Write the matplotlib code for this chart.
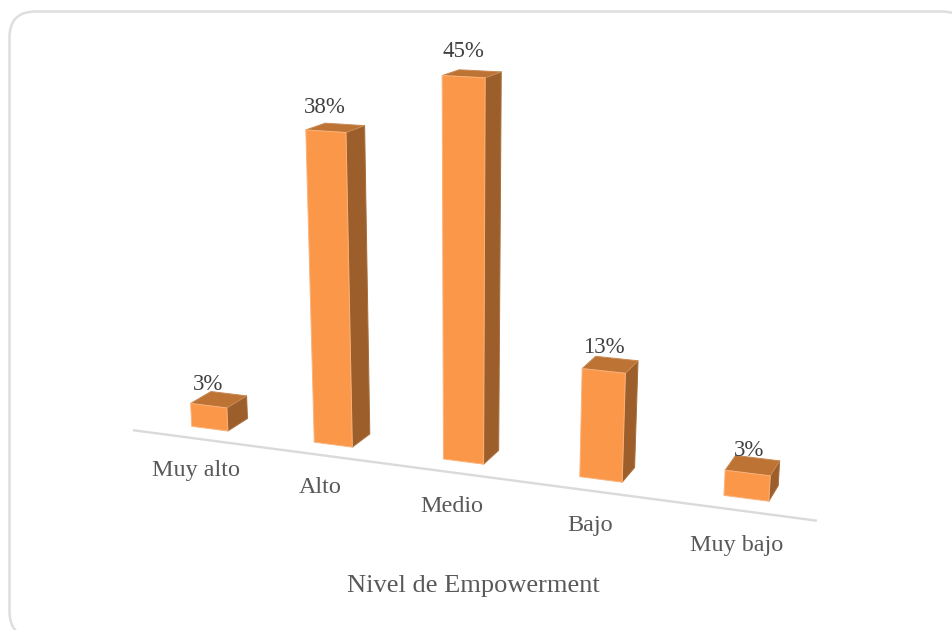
import numpy as np
import matplotlib
matplotlib.use("Agg")
import matplotlib.pyplot as plt
from matplotlib.patches import Polygon, FancyBboxPatch

# Survey results
categories = ["Muy alto", "Alto", "Medio", "Bajo", "Muy bajo"]
percentages = [3, 38, 45, 13, 3]
axis_title = "Nivel de Empowerment"

plt.rcParams["font.family"] = ["Liberation Serif", "DejaVu Serif"]

FRONT = "#FA9748"
TOP = "#BC7334"
SIDE = "#9C5E2A"
LABEL = "#595959"
VALUE = "#404040"
FRAME = "#DEDEDE"

# Perspective camera: (category, value, depth) -> canvas pixels
CAMERA = np.array([
    [114.9002, -0.646, 24.73545, 209.748],
    [4.574507, -8.22, -3.677151, 428.6337],
    [-0.02577282, -0.0014, 0.02101169, 1.0],
])
HALF_WIDTH = 0.15


def project(x, y, z):
    u, v, w = CAMERA @ np.array([x, y, z, 1.0])
    return u / w, v / w


def face(corners, colour, edge, order):
    ax.add_patch(Polygon([project(*c) for c in corners], closed=True,
                         facecolor=colour, edgecolor=edge, linewidth=0.7,
                         joinstyle="round", zorder=order))


fig = plt.figure(figsize=(9.53, 6.3), dpi=100)
ax = fig.add_axes([0, 0, 1, 1])
ax.set_xlim(0, 953)
ax.set_ylim(630, 0)
ax.axis("off")

# Chart-area frame, running past the right and bottom edges of the canvas
ax.add_patch(FancyBboxPatch((9.5, 11.5), 958, 626,
                            boxstyle="round,pad=0,rounding_size=26",
                            facecolor="white", edgecolor=FRAME, linewidth=1.8,
                            clip_on=True, zorder=0))

# Floor line of the category axis
start = project(-0.5, 0, -0.75)
end = project(4.5, 0, -0.75)
ax.plot([start[0], end[0]], [start[1], end[1]], color="#DADADA", lw=1.7, zorder=1)

for i, (name, value) in enumerate(zip(categories, percentages)):
    left, right = i - HALF_WIDTH, i + HALF_WIDTH
    face([(right, 0, 0), (right, 0, 1), (right, value, 1), (right, value, 0)],
         SIDE, "#A8703F", 2)
    face([(left, value, 0), (right, value, 0), (right, value, 1), (left, value, 1)],
         TOP, "#C98A55", 2)
    face([(left, 0, 0), (right, 0, 0), (right, value, 0), (left, value, 0)],
         FRONT, "#FBB27A", 3)

    px, py = project(i, value + 2.7, 0)
    ax.text(px, py, f"{value}%", ha="center", va="center",
            fontsize=16.5, color=VALUE, zorder=4)

    lx, ly = project(i, -4.2, -0.75)
    ax.text(lx, ly, name, ha="center", va="center",
            fontsize=17.4, color=LABEL, zorder=4)

ax.text(473.5, 586, axis_title, ha="center", va="center",
        fontsize=19, color=LABEL, zorder=4)

fig.savefig("out.png", dpi=100, facecolor="white")
